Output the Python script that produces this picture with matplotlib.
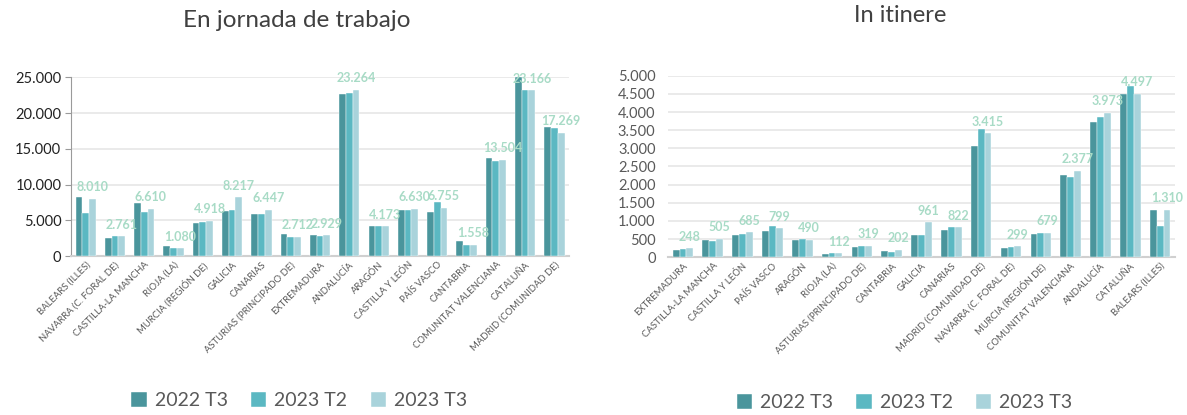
import matplotlib
matplotlib.use("Agg")
import matplotlib.pyplot as plt
import numpy as np
from matplotlib.ticker import FuncFormatter

plt.rcParams["font.family"] = ["Lato", "DejaVu Sans"]

SERIES = ["2022 T3", "2023 T2", "2023 T3"]
COLORS = ["#4a959c", "#5bb8c2", "#a9d3db"]
LABEL_COLOR = "#a8dbc6"
TEXT_GREY = "#595959"

# En jornada de trabajo
jornada_cats = [
    "BALEARS (ILLES)", "NAVARRA (C. FORAL DE)", "CASTILLA-LA MANCHA", "RIOJA (LA)",
    "MURCIA (REGIÓN DE)", "GALICIA", "CANARIAS", "ASTURIAS (PRINCIPADO DE)",
    "EXTREMADURA", "ANDALUCÍA", "ARAGÓN", "CASTILLA Y LEÓN", "PAÍS VASCO",
    "CANTABRIA", "COMUNITAT VALENCIANA", "CATALUÑA", "MADRID (COMUNIDAD DE)",
]
jornada_2022t3 = [8260, 2570, 7420, 1400, 4620, 6250, 5920, 3120, 2890, 22670,
                  4150, 6480, 6160, 2050, 13670, 25050, 18050]
jornada_2023t2 = [5970, 2800, 6200, 1130, 4710, 6390, 5880, 2660, 2750, 22800,
                  4240, 6440, 7560, 1540, 13250, 23230, 17910]
jornada_2023t3 = [8010, 2761, 6610, 1080, 4918, 8217, 6447, 2712, 2929, 23264,
                  4173, 6630, 6755, 1558, 13504, 23166, 17269]

# In itinere
itinere_cats = [
    "EXTREMADURA", "CASTILLA-LA MANCHA", "CASTILLA Y LEÓN", "PAÍS VASCO", "ARAGÓN",
    "RIOJA (LA)", "ASTURIAS (PRINCIPADO DE)", "CANTABRIA", "GALICIA", "CANARIAS",
    "MADRID (COMUNIDAD DE)", "NAVARRA (C. FORAL DE)", "MURCIA (REGIÓN DE)",
    "COMUNITAT VALENCIANA", "ANDALUCÍA", "CATALUÑA", "BALEARS (ILLES)",
]
itinere_2022t3 = [200, 486, 605, 716, 486, 83, 284, 174, 605, 743, 3064, 266, 642,
                  2257, 3725, 4495, 1294]
itinere_2023t2 = [230, 450, 642, 862, 514, 119, 303, 156, 605, 835, 3523, 294, 679,
                  2211, 3862, 4716, 872]
itinere_2023t3 = [248, 505, 685, 799, 490, 112, 319, 202, 961, 822, 3415, 299, 679,
                  2377, 3973, 4497, 1310]


def thousands(v, _pos):
    return f"{int(v):,}".replace(",", ".")


def draw_panel(ax, cats, series, ymax, ystep, left_spine, tick_color):
    x = np.arange(len(cats))
    w = 0.23
    for i, (vals, col, name) in enumerate(zip(series, COLORS, SERIES)):
        ax.bar(x + (i - 1) * w, vals, width=w, color=col, label=name, zorder=3,
               edgecolor="white", linewidth=0.3)
    # value labels only on the latest quarter
    for xi, v in zip(x, series[2]):
        ax.annotate(thousands(v, None), (xi + w, v), xytext=(0, 4),
                    textcoords="offset points", ha="center", va="bottom",
                    fontsize=9, fontweight="bold", color=LABEL_COLOR, zorder=4)
    ax.set_xlim(-0.5, len(cats) - 0.5)
    ax.set_ylim(0, ymax)
    ax.set_yticks(np.arange(0, ymax + 1, ystep))
    ax.yaxis.set_major_formatter(FuncFormatter(thousands))
    ax.grid(axis="y", color="#e6e6e6", linewidth=1.2, zorder=0)
    ax.set_axisbelow(True)
    ax.set_xticks(x)
    ax.set_xticklabels(cats, rotation=45, ha="right", rotation_mode="anchor",
                       fontsize=6.8, color=TEXT_GREY)
    ax.tick_params(axis="x", length=0, pad=3)
    ax.tick_params(axis="y", labelsize=10.5, colors=tick_color,
                   length=4 if left_spine else 0, color="#9a9a9a",
                   pad=3 if left_spine else 9)
    for s in ["top", "right"]:
        ax.spines[s].set_visible(False)
    ax.spines["left"].set_visible(left_spine)
    ax.spines["left"].set_color("#9a9a9a")
    ax.spines["bottom"].set_color("#d0d0d0")
    ax.spines["bottom"].set_linewidth(1.5)


fig = plt.figure(figsize=(11.87, 4.15), dpi=100)
ax1 = fig.add_axes([0.0598, 0.383, 0.4196, 0.4306])
ax2 = fig.add_axes([0.5628, 0.380, 0.4271, 0.4376])

draw_panel(ax1, jornada_cats, [jornada_2022t3, jornada_2023t2, jornada_2023t3],
           25000, 5000, True, "#222222")
draw_panel(ax2, itinere_cats, [itinere_2022t3, itinere_2023t2, itinere_2023t3],
           5000, 500, False, TEXT_GREY)

fig.text(0.250, 0.950, "En jornada de trabajo", ha="center", va="center",
         fontsize=17.5, color="#404040")
fig.text(0.758, 0.962, "In itinere", ha="center", va="center",
         fontsize=17, color="#404040")

for ax, cx, cy in [(ax1, 0.252, 0.035), (ax2, 0.762, 0.030)]:
    h, l = ax.get_legend_handles_labels()
    fig.legend(h, l, loc="center", bbox_to_anchor=(cx, cy), ncol=3, frameon=False,
               fontsize=14, labelcolor=TEXT_GREY, handlelength=0.8,
               handleheight=0.8, handletextpad=0.4, columnspacing=1.2)

fig.savefig("out.png", dpi=100, facecolor="white")
